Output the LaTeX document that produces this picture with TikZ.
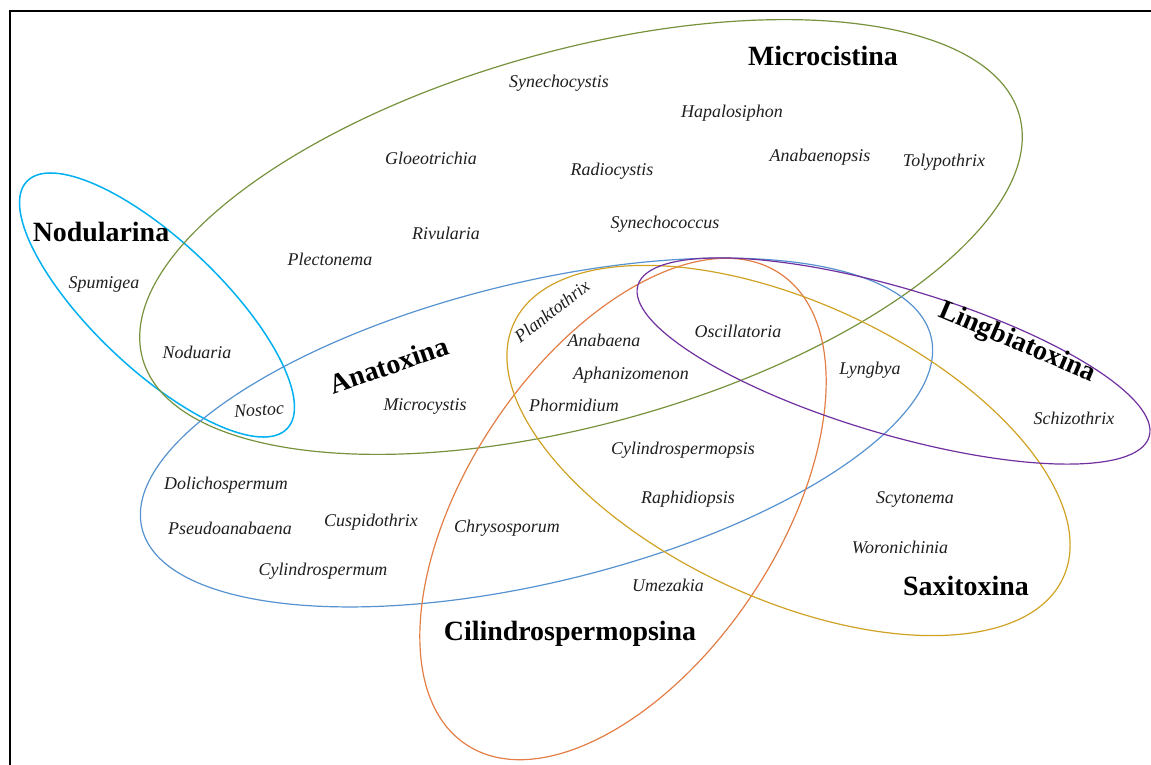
\documentclass[tikz,border=0pt]{standalone}
\usepackage{fontspec}
\setmainfont{Liberation Serif}
\definecolor{cNod}{RGB}{0,176,240}
\definecolor{cMic}{RGB}{118,146,60}
\definecolor{cAna}{RGB}{86,146,207}
\definecolor{cCil}{RGB}{226,126,70}
\definecolor{cSax}{RGB}{208,162,36}
\definecolor{cLin}{RGB}{112,48,160}
\definecolor{txt}{RGB}{30,30,30}
\begin{document}
\begin{tikzpicture}[x=1bp,y=-1bp,
  sp/.style={font=\fontsize{18}{20}\selectfont\itshape, text=txt, inner sep=0pt},
  ttl/.style={font=\fontsize{28}{30}\selectfont\bfseries, text=black, inner sep=0pt},
  ring/.style={line width=1.2bp}]
\useasboundingbox (0,0) rectangle (1151,765);
\clip (0,0) rectangle (1151,765);
\draw[line width=2bp] (10,11) rectangle (1170,790);
% ellipses
\draw[ring, cNod, line width=1.5bp, rotate around={-43.5:(157,305)}] (157,305) ellipse [x radius=179.5, y radius=64];
\draw[ring, cMic, rotate around={15.5:(581,237)}] (581,237) ellipse [x radius=455, y radius=187];
\draw[ring, cAna, rotate around={13.65:(536.5,432.5)}] (536.5,432.5) ellipse [x radius=406, y radius=150];
\draw[ring, cCil, rotate around={56.3:(623,509)}] (623,509) ellipse [x radius=283, y radius=155];
\draw[ring, cSax, rotate around={-24.9:(788.5,450.5)}] (788.5,450.5) ellipse [x radius=302.7, y radius=148];
\draw[ring, cLin, rotate around={-16.5:(893.5,361)}] (893.5,361) ellipse [x radius=266.6, y radius=73];
% titles
\node[ttl] (tMic) at (823,56) {Microcistina};
\node[ttl] (tNod) at (101,232) {Nodularina};
\node[ttl, rotate=19] (tAna) at (389,365) {Anatoxina};
\node[ttl, rotate=-23] (tLin) at (1017,343) {Lingbiatoxina};
\node[ttl] (tSax) at (966,586) {Saxitoxina};
\node[ttl] (tCil) at (570,634) {Cilindrospermopsina};
% species
\node[sp] (s1) at (559,83) {Synechocystis};
\node[sp] (s2) at (732,113) {Hapalosiphon};
\node[sp] (s3) at (431,158) {Gloeotrichia};
\node[sp] (s4) at (612,171) {Radiocystis};
\node[sp] (s5) at (820,157) {Anabaenopsis};
\node[sp] (s6) at (944,162) {Tolypothrix};
\node[sp] (s7) at (446,233) {Rivularia};
\node[sp] (s8) at (665,224) {Synechococcus};
\node[sp] (s9) at (330,259) {Plectonema};
\node[sp] (s10) at (104,284) {Spumigea};
\node[sp] (s11) at (197,352) {Noduaria};
\node[sp, rotate=4] (s12) at (259,410) {Nostoc};
\node[sp, rotate=38] (s13) at (552,311) {Planktothrix};
\node[sp] (s14) at (604,340) {Anabaena};
\node[sp] (s15) at (738,331) {Oscillatoria};
\node[sp] (s16) at (631,375) {Aphanizomenon};
\node[sp] (s17) at (574,405) {Phormidium};
\node[sp] (s18) at (870,370) {Lyngbya};
\node[sp] (s19) at (425,406) {Microcystis};
\node[sp] (s20) at (1074,418) {Schizothrix};
\node[sp] (s21) at (683,450) {Cylindrospermopsis};
\node[sp] (s22) at (226,485) {Dolichospermum};
\node[sp] (s23) at (688,499) {Raphidiopsis};
\node[sp] (s24) at (915,499) {Scytonema};
\node[sp] (s25) at (230,528) {Pseudoanabaena};
\node[sp] (s26) at (371,522) {Cuspidothrix};
\node[sp] (s27) at (507,528) {Chrysosporum};
\node[sp] (s28) at (900,547) {Woronichinia};
\node[sp] (s29) at (323,571) {Cylindrospermum};
\node[sp] (s30) at (668,585) {Umezakia};
\end{tikzpicture}
\end{document}
